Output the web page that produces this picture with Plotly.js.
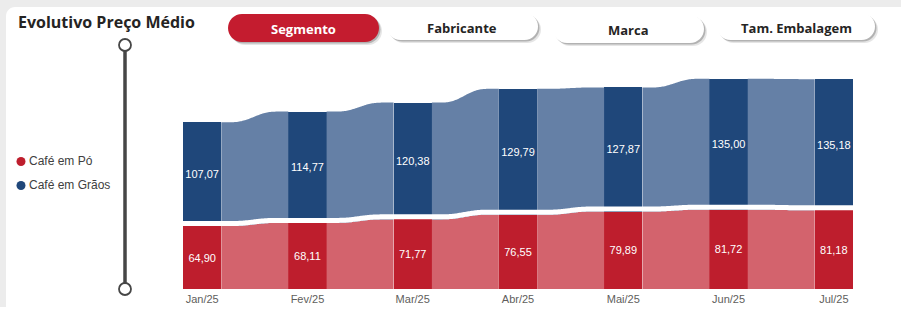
<!DOCTYPE html>
<html><head><meta charset="utf-8">
<script src="https://cdn.plot.ly/plotly-3.0.1.min.js"></script>
<style>html,body{margin:0;padding:0;background:#fff;overflow:hidden;} #chart{width:901px;height:325px;}</style>
</head><body><div id="chart"></div>
<script>
// ---- data ----
const months = ['Jan/25','Fev/25','Mar/25','Abr/25','Mai/25','Jun/25','Jul/25'];
const cafePo = [64.90, 68.11, 71.77, 76.55, 79.89, 81.72, 81.18];
const cafeGraos = [107.07, 114.77, 120.38, 129.79, 127.87, 135.00, 135.18];
const seriesNames = ['Café em Pó', 'Café em Grãos'];
const buttonLabels = ['Segmento', 'Fabricante', 'Marca', 'Tam. Embalagem'];
const chartTitle = 'Evolutivo Preço Médio';

// ---- layout geometry ----
const W = 901, H = 325, L = 183, R = 48, T = 66, B = 36;
const plotW = W - L - R, plotH = H - T - B;
const px = x => (x - L) / plotW;
const py = y => (H - B - y) / plotH;
const BW = 0.364;
const pxPerUnit = 0.97;
const yMax = plotH / pxPerUnit;

const colRedBar = '#BE1E2D', colRedRib = '#D3636D';
const colBlueBar = '#1F477A', colBlueRib = '#6580A6';

const idx = months.map((_, i) => i);
const totals = cafePo.map((v, i) => v + cafeGraos[i]);
const fmt = v => v.toFixed(2).replace('.', ',');

function ease(t) {
  const a = 0.12, b = 0.85;
  if (t <= a) return 0;
  if (t >= b) return 1;
  const u = (t - a) / (b - a);
  return u * u * u * (u * (u * 6 - 15) + 10);
}
function curve(arr, i, n) {
  const xs = [], ys = [];
  const x0 = i + BW / 2, x1 = i + 1 - BW / 2;
  for (let k = 0; k <= n; k++) {
    const t = k / n;
    xs.push(x0 + (x1 - x0) * t);
    ys.push(arr[i] + (arr[i + 1] - arr[i]) * ease(t));
  }
  return { xs, ys };
}

// ribbons
const redRx = [], redRy = [], blueRx = [], blueRy = [];
for (let i = 0; i < months.length - 1; i++) {
  const rc = curve(cafePo, i, 60), tc = curve(totals, i, 60);
  const x0 = i + BW / 2, x1 = i + 1 - BW / 2;
  redRx.push(...rc.xs, x1, x0, null);
  redRy.push(...rc.ys, 0, 0, null);
  blueRx.push(...tc.xs, ...rc.xs.slice().reverse(), null);
  blueRy.push(...tc.ys, ...rc.ys.slice().reverse(), null);
}
// white gap along boundary
const gap = 2.6;
const gx = [], gy = [];
for (let i = 0; i < months.length; i++) {
  gx.push(i - BW / 2, i + BW / 2);
  gy.push(cafePo[i] + gap, cafePo[i] + gap);
  if (i < months.length - 1) {
    const rc = curve(cafePo, i, 60);
    gx.push(...rc.xs);
    gy.push(...rc.ys.map(v => v + gap));
  }
}

const data = [
  { type: 'bar', x: idx, y: cafePo, width: BW, name: seriesNames[0],
    marker: { color: colRedBar, line: { width: 0 } },
    text: cafePo.map(fmt), textposition: 'inside', insidetextanchor: 'middle',
    constraintext: 'none', textangle: 0,
    textfont: { color: '#ffffff', size: 11, family: 'Liberation Sans, Arial' },
    showlegend: false, hoverinfo: 'skip' },
  { type: 'bar', x: idx, y: cafeGraos, width: BW, name: seriesNames[1],
    marker: { color: colBlueBar, line: { width: 0 } },
    text: cafeGraos.map(fmt), textposition: 'inside', insidetextanchor: 'middle',
    constraintext: 'none', textangle: 0,
    textfont: { color: '#ffffff', size: 11, family: 'Liberation Sans, Arial' },
    showlegend: false, hoverinfo: 'skip' },
  { type: 'scatter', x: redRx, y: redRy, mode: 'lines', fill: 'toself',
    fillcolor: colRedRib, line: { width: 0, color: colRedRib, simplify: false }, showlegend: false, hoverinfo: 'skip' },
  { type: 'scatter', x: blueRx, y: blueRy, mode: 'lines', fill: 'toself',
    fillcolor: colBlueRib, line: { width: 0, color: colBlueRib, simplify: false }, showlegend: false, hoverinfo: 'skip' },
  { type: 'scatter', x: gx, y: gy, mode: 'lines',
    line: { width: 5, color: '#ffffff', simplify: false }, showlegend: false, hoverinfo: 'skip' }
];

function pill(x0, y0, x1, y1, r) {
  const k = 0.552 * r;
  const X = px, Y = py;
  return `M${X(x0 + r)},${Y(y0)} L${X(x1 - r)},${Y(y0)} ` +
    `C${X(x1 - r + k)},${Y(y0)} ${X(x1)},${Y(y0 + r - k)} ${X(x1)},${Y(y0 + r)} ` +
    `L${X(x1)},${Y(y1 - r)} C${X(x1)},${Y(y1 - r + k)} ${X(x1 - r + k)},${Y(y1)} ${X(x1 - r)},${Y(y1)} ` +
    `L${X(x0 + r)},${Y(y1)} C${X(x0 + r - k)},${Y(y1)} ${X(x0)},${Y(y1 - r + k)} ${X(x0)},${Y(y1 - r)} ` +
    `L${X(x0)},${Y(y0 + r)} C${X(x0)},${Y(y0 + r - k)} ${X(x0 + r - k)},${Y(y0)} ${X(x0 + r)},${Y(y0)} Z`;
}
const P = (path, fill) => ({ type: 'path', xref: 'paper', yref: 'paper', path, fillcolor: fill, line: { width: 0 }, layer: 'below' });

const shapes = [];
// background frame
shapes.push({ type: 'rect', xref: 'paper', yref: 'paper', x0: px(0), x1: px(W), y0: py(307), y1: py(0), fillcolor: '#ececec', line: { width: 0 }, layer: 'below' });
shapes.push(P(pill(6, 7, W + 20, 330, 9), '#ffffff'));

// buttons
const btns = [
  { x0: 228, y0: 14, x1: 379, y1: 42, active: true },
  { x0: 387, y0: 13, x1: 538, y1: 40 },
  { x0: 553, y0: 15, x1: 704, y1: 43 },
  { x0: 717, y0: 13, x1: 875, y1: 40 }
];
btns.forEach(b => {
  const r = (b.y1 - b.y0) / 2;
  shapes.push(P(pill(b.x0 + 3, b.y0 + 3, b.x1 + 3, b.y1 + 3, r), 'rgba(0,0,0,0.10)'));
  shapes.push(P(pill(b.x0 + 1.5, b.y0 + 1.5, b.x1 + 1.5, b.y1 + 1.5, r), 'rgba(0,0,0,0.22)'));
  shapes.push(P(pill(b.x0, b.y0, b.x1, b.y1, r), b.active ? '#C41C2F' : '#ffffff'));
});

// slider decoration
shapes.push({ type: 'line', xref: 'paper', yref: 'paper', x0: px(125), x1: px(125), y0: py(51), y1: py(283), line: { color: '#464646', width: 3.5 } });
[45, 289].forEach(cy => {
  shapes.push({ type: 'circle', xref: 'paper', yref: 'paper', x0: px(119), x1: px(131), y0: py(cy + 6), y1: py(cy - 6), fillcolor: '#ffffff', line: { color: '#464646', width: 1.8 } });
});
// legend dots
const legendCols = [colRedBar, colBlueBar];
[161.5, 185.5].forEach((cy, i) => {
  shapes.push({ type: 'circle', xref: 'paper', yref: 'paper', x0: px(16.5), x1: px(25.5), y0: py(cy + 4.5), y1: py(cy - 4.5), fillcolor: legendCols[i], line: { width: 0 } });
});

const annotations = [];
annotations.push({ xref: 'paper', yref: 'paper', x: px(16), y: py(22), xanchor: 'left', yanchor: 'middle', showarrow: false,
  text: chartTitle, font: { family: 'Open Sans', size: 16, weight: 700, color: '#252423' } });
const btnCenters = [[303, 28.5], [462, 27.5], [628, 30], [796, 27.5]];
buttonLabels.forEach((t, i) => {
  annotations.push({ xref: 'paper', yref: 'paper', x: px(btnCenters[i][0]), y: py(btnCenters[i][1]), xanchor: 'center', yanchor: 'middle', showarrow: false,
    text: t, font: { family: 'Open Sans', size: 13, weight: 700, color: i === 0 ? '#ffffff' : '#252423' } });
});
seriesNames.forEach((t, i) => {
  annotations.push({ xref: 'paper', yref: 'paper', x: px(27), y: py([161, 185][i]), xanchor: 'left', yanchor: 'middle', showarrow: false,
    text: t, font: { family: 'Liberation Sans, Arial', size: 12, color: '#404040' } });
});

const layout = {
  width: W, height: H,
  margin: { l: L, r: R, t: T, b: B, pad: 0 },
  paper_bgcolor: '#ffffff', plot_bgcolor: 'rgba(0,0,0,0)',
  barmode: 'stack', bargap: 0, hovermode: false, showlegend: false,
  xaxis: { range: [-BW / 2, months.length - 1 + BW / 2], tickvals: idx, ticktext: months,
    showgrid: false, zeroline: false, showline: false, ticks: '', fixedrange: true, ticklabelstandoff: 2,
    tickfont: { family: 'Liberation Sans, Arial', size: 11, color: '#605E5C' } },
  yaxis: { range: [0, yMax], visible: false, showgrid: false, zeroline: false, fixedrange: true },
  shapes, annotations
};

Plotly.newPlot('chart', data, layout, { displayModeBar: false, staticPlot: true });
</script>
</body></html>
